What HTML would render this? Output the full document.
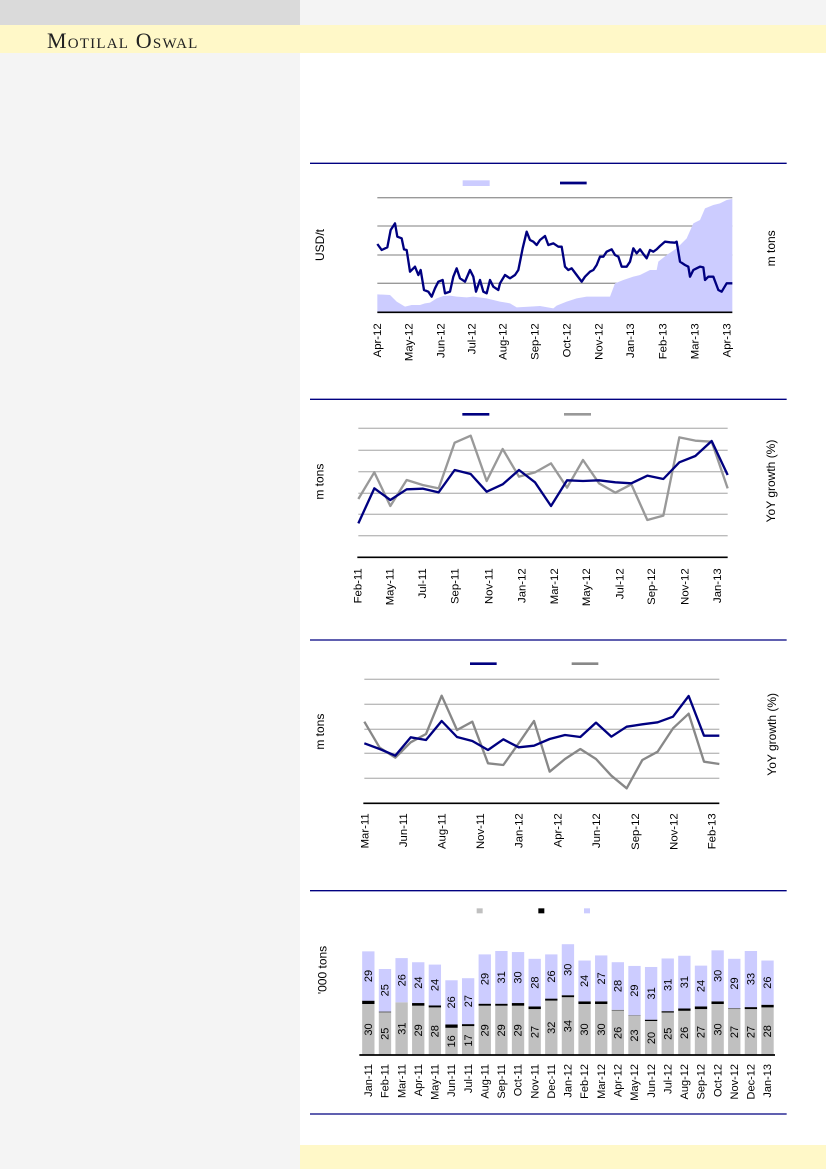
<!DOCTYPE html>
<html><head><meta charset="utf-8"><style>
body{margin:0;width:826px;height:1169px;position:relative;background:#fff;overflow:hidden;font-family:"Liberation Sans",sans-serif}
.a{position:absolute}
svg text{font-family:"Liberation Sans",sans-serif;fill:#000}
</style></head><body>
<div class="a" style="left:0;top:0;width:300px;height:25px;background:#dadada"></div>
<div class="a" style="left:300px;top:0;width:526px;height:25px;background:#f4f4f4"></div>
<div class="a" style="left:0;top:25px;width:826px;height:28px;background:#fff8c8"></div>
<div class="a" style="left:47px;top:28px;font-family:'Liberation Serif',serif;font-size:22px;color:#222;font-variant:small-caps;letter-spacing:1.2px">Motilal Oswal</div>
<div class="a" style="left:0;top:53px;width:300px;height:1116px;background:#f4f4f4"></div>
<div class="a" style="left:300px;top:1145px;width:526px;height:24px;background:#fff8c8"></div>

<!-- Chart 1 -->
<svg class="a" style="left:300px;top:160px" width="500" height="220" viewBox="0 0 1500 660">
<line x1="30" y1="10" x2="1460" y2="10" stroke="#000080" stroke-width="4"/>
<rect x="488" y="61" width="81" height="17" fill="#ccccff"/>
<line x1="780" y1="69" x2="860" y2="69" stroke="#000080" stroke-width="8"/>
<g stroke="#999" stroke-width="4"><line x1="232" y1="113" x2="1297" y2="113"/><line x1="232" y1="198" x2="1297" y2="198"/><line x1="232" y1="285" x2="1297" y2="285"/><line x1="232" y1="370" x2="1297" y2="370"/></g>
<polygon fill="#ccccff" points="232,403 270,405 290,425 315,440 335,435 360,435 375,430 390,428 410,415 430,408 450,407 470,410 500,412 520,410 560,415 600,425 630,430 650,442 690,440 720,438 760,445 770,437 800,425 830,415 860,410 900,410 930,410 945,370 970,360 1000,350 1020,345 1050,330 1070,330 1075,305 1100,285 1130,265 1160,235 1180,190 1200,180 1215,145 1240,135 1260,130 1280,120 1297,117 1297,457 232,457"/>
<line x1="232" y1="457" x2="1297" y2="457" stroke="#000" stroke-width="5"/>
<polyline fill="none" stroke="#000080" stroke-width="7" stroke-linejoin="round" points="232,252 245,270 262,262 272,210 285,190 292,230 305,235 312,268 320,270 330,335 345,320 355,345 362,330 372,390 385,395 395,410 405,385 415,365 428,360 435,400 450,395 460,350 470,325 480,355 495,365 510,330 520,350 528,395 540,360 550,395 560,400 570,360 580,380 595,390 600,370 615,345 630,355 645,345 655,330 668,265 680,215 690,240 700,245 710,255 720,240 735,228 745,255 760,250 775,260 785,260 795,320 805,330 815,325 830,345 845,365 855,350 870,335 880,330 890,315 900,290 910,290 920,275 935,268 945,285 955,290 965,320 980,320 990,305 1000,265 1010,280 1020,268 1030,282 1040,295 1050,270 1060,275 1070,268 1080,258 1095,245 1110,247 1125,248 1130,245 1140,305 1155,315 1165,320 1170,350 1180,330 1190,325 1200,320 1210,322 1215,360 1225,350 1240,350 1255,390 1265,395 1280,370 1297,370"/>
<text transform="translate(72,255) rotate(-90)" font-size="36" text-anchor="middle">USD/t</text>
<text transform="translate(1425,265) rotate(-90)" font-size="36" text-anchor="middle">m tons</text>
<g font-size="34" text-anchor="end">
<text transform="translate(243,490) rotate(-90)">Apr-12</text><text transform="translate(338,490) rotate(-90)">May-12</text><text transform="translate(433,490) rotate(-90)">Jun-12</text><text transform="translate(527,490) rotate(-90)">Jul-12</text><text transform="translate(620,490) rotate(-90)">Aug-12</text><text transform="translate(715,490) rotate(-90)">Sep-12</text><text transform="translate(812,490) rotate(-90)">Oct-12</text><text transform="translate(908,490) rotate(-90)">Nov-12</text><text transform="translate(1002,490) rotate(-90)">Jan-13</text><text transform="translate(1100,490) rotate(-90)">Feb-13</text><text transform="translate(1195,490) rotate(-90)">Mar-13</text><text transform="translate(1292,490) rotate(-90)">Apr-13</text>
</g>
</svg>

<!-- Chart 2 -->
<svg class="a" style="left:300px;top:395px" width="500" height="220" viewBox="0 0 1500 660">
<line x1="30" y1="13" x2="1460" y2="13" stroke="#000080" stroke-width="4"/>
<line x1="487" y1="58" x2="568" y2="58" stroke="#000080" stroke-width="8"/>
<line x1="792" y1="58" x2="873" y2="58" stroke="#999" stroke-width="8"/>
<g stroke="#bbb" stroke-width="4"><line x1="175" y1="100" x2="1283" y2="100"/><line x1="175" y1="166" x2="1283" y2="166"/><line x1="175" y1="230" x2="1283" y2="230"/><line x1="175" y1="295" x2="1283" y2="295"/><line x1="175" y1="358" x2="1283" y2="358"/><line x1="175" y1="422" x2="1283" y2="422"/></g>
<line x1="172" y1="487" x2="1283" y2="487" stroke="#000" stroke-width="5"/>
<polyline fill="none" stroke="#999" stroke-width="7" stroke-linejoin="round" points="175,312 223,232 271,333 320,255 368,270 416,280 464,143 512,122 560,258 608,162 657,245 705,232 753,205 801,278 849,195 897,265 946,293 994,268 1042,375 1090,362 1138,127 1186,137 1235,140 1283,280"/>
<polyline fill="none" stroke="#000080" stroke-width="7" stroke-linejoin="round" points="175,385 223,280 271,315 320,283 368,281 416,292 464,225 512,237 560,290 608,268 657,225 705,262 753,333 801,256 849,258 897,256 946,262 994,265 1042,242 1090,252 1138,202 1186,183 1235,138 1283,240"/>
<text transform="translate(70,260) rotate(-90)" font-size="36" text-anchor="middle">m tons</text>
<text transform="translate(1425,258) rotate(-90)" font-size="36" text-anchor="middle">YoY growth (%)</text>
<g font-size="34" text-anchor="end">
<text transform="translate(185,520) rotate(-90)">Feb-11</text><text transform="translate(281,520) rotate(-90)">May-11</text><text transform="translate(378,520) rotate(-90)">Jul-11</text><text transform="translate(476,520) rotate(-90)">Sep-11</text><text transform="translate(578,520) rotate(-90)">Nov-11</text><text transform="translate(676,520) rotate(-90)">Jan-12</text><text transform="translate(774,520) rotate(-90)">Mar-12</text><text transform="translate(870,520) rotate(-90)">May-12</text><text transform="translate(970,520) rotate(-90)">Jul-12</text><text transform="translate(1065,520) rotate(-90)">Sep-12</text><text transform="translate(1166,520) rotate(-90)">Nov-12</text><text transform="translate(1263,520) rotate(-90)">Jan-13</text>
</g>
</svg>

<!-- Chart 3 -->
<svg class="a" style="left:300px;top:635px" width="500" height="230" viewBox="0 0 1500 690">
<line x1="30" y1="15" x2="1460" y2="15" stroke="#000080" stroke-width="4"/>
<line x1="510" y1="86" x2="590" y2="86" stroke="#000080" stroke-width="8"/>
<line x1="815" y1="86" x2="895" y2="86" stroke="#888" stroke-width="8"/>
<g stroke="#bbb" stroke-width="4"><line x1="193" y1="133" x2="1258" y2="133"/><line x1="193" y1="208" x2="1258" y2="208"/><line x1="193" y1="283" x2="1258" y2="283"/><line x1="193" y1="355" x2="1258" y2="355"/><line x1="193" y1="430" x2="1258" y2="430"/></g>
<line x1="190" y1="505" x2="1258" y2="505" stroke="#000" stroke-width="5"/>
<polyline fill="none" stroke="#888" stroke-width="7" stroke-linejoin="round" points="193,260 239,338 286,368 332,322 378,297 425,182 471,285 517,260 564,385 610,390 656,325 702,258 749,410 795,372 841,342 888,372 934,422 980,460 1027,375 1073,350 1119,280 1166,236 1212,380 1258,387"/>
<polyline fill="none" stroke="#000080" stroke-width="7" stroke-linejoin="round" points="193,325 239,342 286,362 332,307 378,315 425,258 471,306 517,318 564,345 610,313 656,337 702,332 749,312 795,300 841,306 888,263 934,305 980,275 1027,268 1073,262 1119,245 1166,183 1212,302 1258,302"/>
<text transform="translate(72,290) rotate(-90)" font-size="36" text-anchor="middle">m tons</text>
<text transform="translate(1428,298) rotate(-90)" font-size="36" text-anchor="middle">YoY growth (%)</text>
<g font-size="34" text-anchor="end">
<text transform="translate(205,535) rotate(-90)">Mar-11</text><text transform="translate(321,535) rotate(-90)">Jun-11</text><text transform="translate(437,535) rotate(-90)">Aug-11</text><text transform="translate(552,535) rotate(-90)">Nov-11</text><text transform="translate(667,535) rotate(-90)">Jan-12</text><text transform="translate(784,535) rotate(-90)">Apr-12</text><text transform="translate(900,535) rotate(-90)">Jun-12</text><text transform="translate(1017,535) rotate(-90)">Sep-12</text><text transform="translate(1132,535) rotate(-90)">Nov-12</text><text transform="translate(1247,535) rotate(-90)">Feb-13</text>
</g>
</svg>

<!-- Chart 4 -->
<svg class="a" style="left:300px;top:890px" width="500" height="230" viewBox="0 0 1500 690" id="c4">
<line x1="30" y1="2" x2="1460" y2="2" stroke="#000080" stroke-width="4"/>
<line x1="30" y1="672" x2="1460" y2="672" stroke="#000080" stroke-width="4"/>
<rect x="530" y="55" width="18" height="15" fill="#c0c0c0"/>
<rect x="715" y="55" width="18" height="15" fill="#000"/>
<rect x="852" y="55" width="18" height="15" fill="#ccccff"/>
<text transform="translate(80,240) rotate(-90)" font-size="36" text-anchor="middle">'000 tons</text>
<g id="bars"></g>
<line x1="178" y1="495" x2="1425" y2="495" stroke="#000" stroke-width="5"/>
</svg>
<script>
(function(){
var g=[30,25,31,29,28,16,17,29,29,29,27,32,34,30,30,26,23,20,25,26,27,30,27,27,28];
var b=[10,3,0,8,6,10,6,6,6,8,8,6,6,8,8,3,2,4,4,7,8,8,3,6,8];
var l=[29,25,26,24,24,26,27,29,31,30,28,26,30,24,27,28,29,31,31,31,24,30,29,33,26];
var m=["Jan-11","Feb-11","Mar-11","Apr-11","May-11","Jun-11","Jul-11","Aug-11","Sep-11","Oct-11","Nov-11","Dec-11","Jan-12","Feb-12","Mar-12","Apr-12","May-12","Jun-12","Jul-12","Aug-12","Sep-12","Oct-12","Nov-12","Dec-12","Jan-13"];
var s="",k=5.1;
for(var i=0;i<25;i++){var cx=205+i*49.9,x=cx-18.5,w=37;
var gy=495-g[i]*k,by=gy-b[i],ly=by-l[i]*k;
var bc=(b[i]<=3)?"#666":"#000";
s+='<rect x="'+x+'" y="'+gy+'" width="'+w+'" height="'+(g[i]*k)+'" fill="#c0c0c0"/>';
s+='<rect x="'+x+'" y="'+by+'" width="'+w+'" height="'+b[i]+'" fill="'+bc+'"/>';
s+='<rect x="'+x+'" y="'+ly+'" width="'+w+'" height="'+(l[i]*k)+'" fill="#ccccff"/>';
s+='<text transform="translate('+(cx+11)+','+((gy+495)/2)+') rotate(-90)" font-size="33" text-anchor="middle">'+g[i]+'</text>';
s+='<text transform="translate('+(cx+11)+','+((ly+by)/2)+') rotate(-90)" font-size="33" text-anchor="middle">'+l[i]+'</text>';
s+='<text transform="translate('+(cx+11)+',522) rotate(-90)" font-size="33" text-anchor="end">'+m[i]+'</text>';}
document.getElementById("bars").innerHTML=s;})();
</script>
</body></html>
